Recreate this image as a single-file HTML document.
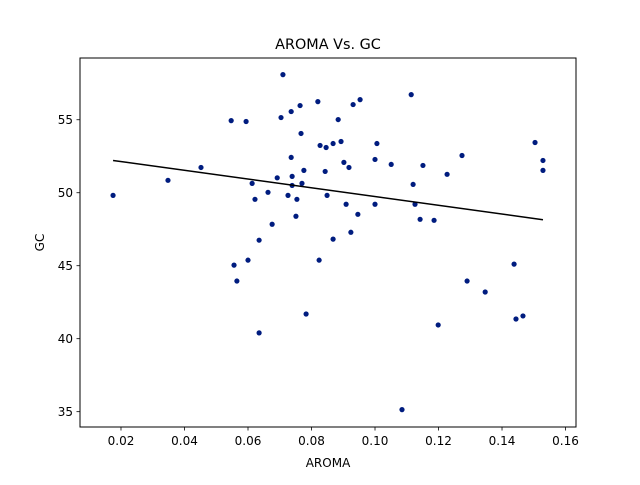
<!DOCTYPE html>
<html><head><meta charset="utf-8"><style>
body{margin:0;background:#fff;}
svg text{font-family:"DejaVu Sans","Liberation Sans",sans-serif;fill:#000;}
</style></head><body>
<svg id="chart" width="640" height="480" xmlns="http://www.w3.org/2000/svg">
<rect width="640" height="480" fill="#fff"/>
<text x="328" y="49" font-size="14.4" text-anchor="middle">AROMA Vs. GC</text>
<g id="plot"></g>
<g id="xt"></g>
<g id="yt"></g>
<rect x="80" y="58" width="496" height="369" fill="none" stroke="#000" stroke-width="1"/>
<text x="328" y="467" font-size="12" text-anchor="middle">AROMA</text>
<text transform="translate(44,242.5) rotate(-90)" font-size="12" text-anchor="middle">GC</text>
</svg>
<script>
const aroma=[0.0175,0.0348,0.0452,0.0547,0.0594,0.0556,0.0565,0.0600,0.0613,0.0622,0.0635,0.0635,0.0663,0.0676,0.0692,0.0704,0.0710,0.0726,0.0736,0.0736,0.0739,0.0739,0.0751,0.0754,0.0764,0.0767,0.0770,0.0776,0.0783,0.0820,0.0824,0.0827,0.0843,0.0846,0.0849,0.0868,0.0868,0.0884,0.0893,0.0902,0.0909,0.0918,0.0924,0.0931,0.0946,0.0953,0.1000,0.1000,0.1006,0.1051,0.1085,0.1114,0.1120,0.1126,0.1142,0.1151,0.1186,0.1199,0.1227,0.1274,0.1290,0.1347,0.1438,0.1444,0.1466,0.1504,0.1529,0.1529];
const gc=[49.82,50.85,51.73,54.94,54.88,45.04,43.95,45.38,50.64,49.55,46.75,40.40,50.03,47.84,51.02,55.15,58.09,49.82,55.56,52.42,51.12,50.50,48.39,49.55,55.97,54.06,50.64,51.53,41.69,56.24,45.38,53.24,51.46,53.10,49.82,46.82,53.37,55.01,53.51,52.08,49.21,51.73,47.29,56.04,48.52,56.38,49.21,52.28,53.37,51.94,35.14,56.72,50.57,49.21,48.18,51.87,48.11,40.94,51.26,52.55,43.95,43.20,45.11,41.35,41.56,53.44,52.21,51.53];
const fitX=[0.0175,0.1529];
const fitY=[52.21,48.15];
const xTicks=[0.02,0.04,0.06,0.08,0.10,0.12,0.14,0.16];
const xTickLabels=["0.02","0.04","0.06","0.08","0.10","0.12","0.14","0.16"];
const yTicks=[35,40,45,50,55];
const yTickLabels=["35","40","45","50","55"];
const X0=0.00709,X1=0.1633,Y0=33.95,Y1=59.23;
const L=80,R=576,T=58,B=427;
function sx(v){return L+(v-X0)/(X1-X0)*(R-L);}
function sy(v){return B-(v-Y0)/(Y1-Y0)*(B-T);}
const NS="http://www.w3.org/2000/svg";
function mk(t,a,p){const e=document.createElementNS(NS,t);for(const k in a)e.setAttribute(k,a[k]);p.appendChild(e);return e;}
const plot=document.getElementById('plot');
for(let i=0;i<aroma.length;i++){
  const c=mk('circle',{cx:sx(aroma[i]),cy:sy(gc[i]),r:2.6,fill:'#001c7f'},plot);
  
  
}
const ln=mk('line',{x1:sx(fitX[0]),y1:sy(fitY[0]),x2:sx(fitX[1]),y2:sy(fitY[1]),stroke:'#000','stroke-width':1.5},plot);


const xt=document.getElementById('xt');
xTicks.forEach((v,i)=>{
  const x=sx(v);
  const tk=mk('line',{x1:x,y1:B,x2:x,y2:B+3.5,stroke:'#000','stroke-width':0.8},xt);
  
  
  const tl=mk('text',{x:x,y:B+18,'font-size':12,'text-anchor':'middle'},xt);
  tl.textContent=xTickLabels[i];
  
  
});
const yt=document.getElementById('yt');
yTicks.forEach((v,i)=>{
  const y=sy(v);
  const tk=mk('line',{x1:L-3.5,y1:y,x2:L,y2:y,stroke:'#000','stroke-width':0.8},yt);
  
  
  const tl=mk('text',{x:L-7,y:y+4.5,'font-size':12,'text-anchor':'end'},yt);
  tl.textContent=yTickLabels[i];
  
  
});
</script>
</body></html>
